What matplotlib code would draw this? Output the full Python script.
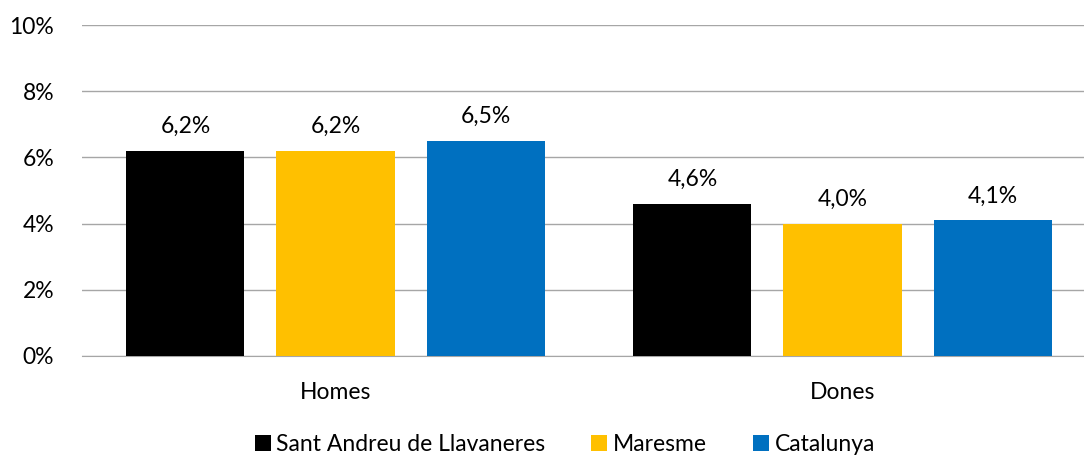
import numpy as np
import matplotlib
matplotlib.use("Agg")
import matplotlib.pyplot as plt

plt.rcParams['font.family'] = ['Lato', 'DejaVu Sans']

categories = ["Homes", "Dones"]
series_names = ["Sant Andreu de Llavaneres", "Maresme", "Catalunya"]
llavaneres = [6.2, 4.6]
maresme = [6.2, 4.0]
catalunya = [6.5, 4.1]
colors = ["#000000", "#FFC000", "#0070C0"]

fs = 16.5

fig = plt.figure(figsize=(10.84, 4.58), dpi=100)
ax = fig.add_axes([82 / 1084, 1 - 356 / 458, 1 - 82 / 1084, 331 / 458])

x = np.arange(len(categories))
width = 0.233
step = 0.296
for i, (vals, name, c) in enumerate(zip([llavaneres, maresme, catalunya], series_names, colors)):
    pos = x + (i - 1) * step
    bars = ax.bar(pos, vals, width, color=c, label=name, zorder=3)
    for b, v in zip(bars, vals):
        ax.text(b.get_x() + b.get_width() / 2, v + 0.42, f"{v:.1f}%".replace(".", ","),
                ha="center", va="bottom", fontsize=fs)

ax.set_ylim(0, 10)
ax.set_xlim(-0.5, (1084 - 82) / 507 - 0.5)
ax.set_yticks(range(0, 11, 2))
ax.set_yticklabels([f"{t}%" for t in range(0, 11, 2)], fontsize=fs)
ax.set_xticks(x)
ax.set_xticklabels(categories, fontsize=fs)
ax.tick_params(axis="both", length=0)
ax.tick_params(axis="y", pad=20)
ax.tick_params(axis="x", pad=19)
ax.grid(axis="y", color="#A6A6A6", linewidth=1, zorder=0)
for s in ["top", "right", "left"]:
    ax.spines[s].set_visible(False)
ax.spines["bottom"].set_color("#A6A6A6")

fig.legend(loc="lower center", bbox_to_anchor=(0.521, -0.038), ncol=3, frameon=False,
           fontsize=fs, handlelength=0.7, handleheight=0.7, handletextpad=0.25,
           columnspacing=2.0)

fig.savefig("out.png", dpi=100)
